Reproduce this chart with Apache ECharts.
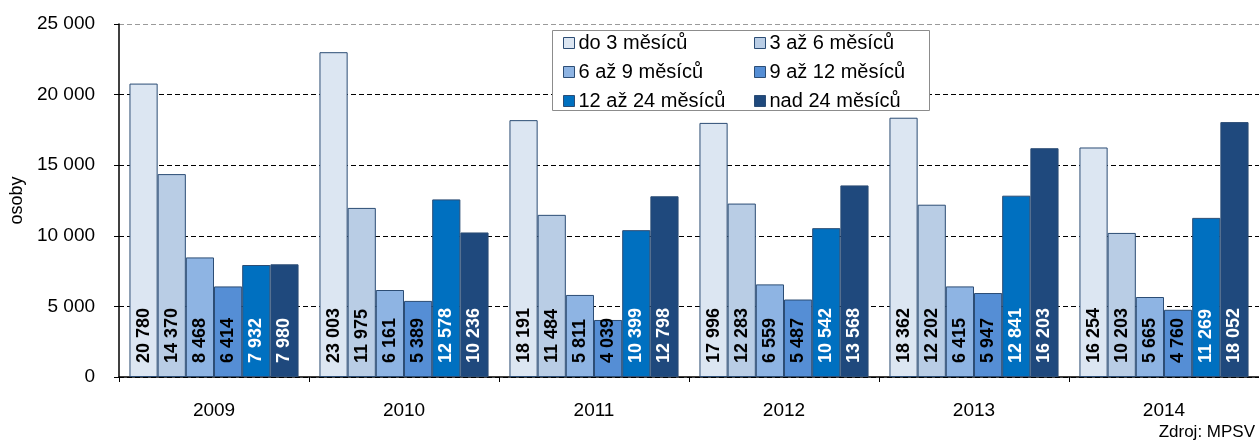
<!DOCTYPE html>
<html>
<head>
<meta charset="utf-8">
<script src="https://cdn.jsdelivr.net/npm/echarts@6/dist/echarts.min.js"></script>
<style>
  html, body { margin: 0; padding: 0; background: #fff; }
  #chart { width: 1259px; height: 444px; }
</style>
</head>
<body>
<div id="chart"></div>
<script>
// roky
const years = ['2009', '2010', '2011', '2012', '2013', '2014']
// délka evidence
const seriesNames = ['do 3 měsíců', '3 až 6 měsíců', '6 až 9 měsíců', '9 až 12 měsíců', '12 až 24 měsíců', 'nad 24 měsíců']
const do3 = [20780, 23003, 18191, 17996, 18362, 16254]
const od3do6 = [14370, 11975, 11484, 12283, 12202, 10203]
const od6do9 = [8468, 6161, 5811, 6559, 6415, 5665]
const od9do12 = [6414, 5389, 4039, 5487, 5947, 4760]
const od12do24 = [7932, 12578, 10399, 10542, 12841, 11269]
const nad24 = [7980, 10236, 12798, 13568, 16203, 18052]

const colors = ['#dce6f2', '#b9cde5', '#8eb4e3', '#558ed5', '#0070c0', '#1f497d']
const labelColors = ['#000', '#000', '#000', '#000', '#fff', '#fff']
const values = [do3, od3do6, od6do9, od9do12, od12do24, nad24]

const fmt = v => String(v).replace(/\B(?=(\d{3})+(?!\d))/g, ' ')
const FONT = 'Liberation Sans, Arial, sans-serif'

const chart = echarts.init(document.getElementById('chart'))

// legenda ve dvou sloupcích
const legendBase = {
  orient: 'vertical',
  top: 33,
  padding: 0,
  z: 20,
  itemGap: 9,
  itemWidth: 11,
  itemHeight: 11,
  icon: 'rect',
  itemStyle: { borderColor: '#2c4d75', borderWidth: 1 },
  textStyle: { fontSize: 20, color: '#000', lineHeight: 20, padding: [0, 0, 0, -1] }
}

chart.setOption({
  animation: false,
  textStyle: { fontFamily: FONT },
  grid: { left: 117, top: 24, bottom: 67, width: 1152 },
  legend: [
    Object.assign({}, legendBase, { left: 563, data: [seriesNames[0], seriesNames[2], seriesNames[4]] }),
    Object.assign({}, legendBase, { left: 754, data: [seriesNames[1], seriesNames[3], seriesNames[5]] })
  ],
  xAxis: {
    type: 'category',
    data: years,
    axisLine: { lineStyle: { color: '#000', width: 1.5 } },
    axisTick: { show: true, length: 5, lineStyle: { color: '#000' } },
    axisLabel: { color: '#000', fontSize: 19, margin: 24 }
  },
  yAxis: {
    type: 'value',
    min: 0,
    max: 25000,
    interval: 5000,
    name: 'osoby',
    nameLocation: 'middle',
    nameGap: 92,
    nameTextStyle: { fontSize: 18, color: '#000' },
    axisLine: { show: true, lineStyle: { color: '#000', width: 1.5 } },
    axisTick: { show: true, length: 5, lineStyle: { color: '#000' } },
    axisLabel: { color: '#000', fontSize: 19, margin: 24, formatter: v => fmt(v) },
    splitLine: {
      show: true,
      lineStyle: {
        type: [5, 3],
        color: ['#000', '#000', '#000', '#000', '#000', '#9a9a9a'],
        width: 1
      }
    }
  },
  graphic: [
    {
      type: 'rect',
      left: 552,
      top: 30,
      z: 5,
      shape: { width: 377, height: 80 },
      style: { fill: '#fff', stroke: '#8c8c8c', lineWidth: 1 }
    },
    {
      type: 'text',
      right: 4,
      bottom: 3,
      style: { text: 'Zdroj: MPSV', fontSize: 17, fill: '#000', fontFamily: FONT }
    }
  ],
  series: seriesNames.map((name, i) => ({
    name: name,
    type: 'bar',
    data: values[i],
    barGap: 0,
    barCategoryGap: '11%',
    itemStyle: { color: colors[i], borderColor: '#2c4d75', borderWidth: 1 },
    label: {
      show: true,
      position: 'insideBottom',
      rotate: 90,
      align: 'left',
      verticalAlign: 'middle',
      distance: 14,
      fontSize: 18,
      fontWeight: 'bold',
      color: labelColors[i],
      formatter: p => fmt(p.value)
    }
  }))
})
</script>
</body>
</html>
